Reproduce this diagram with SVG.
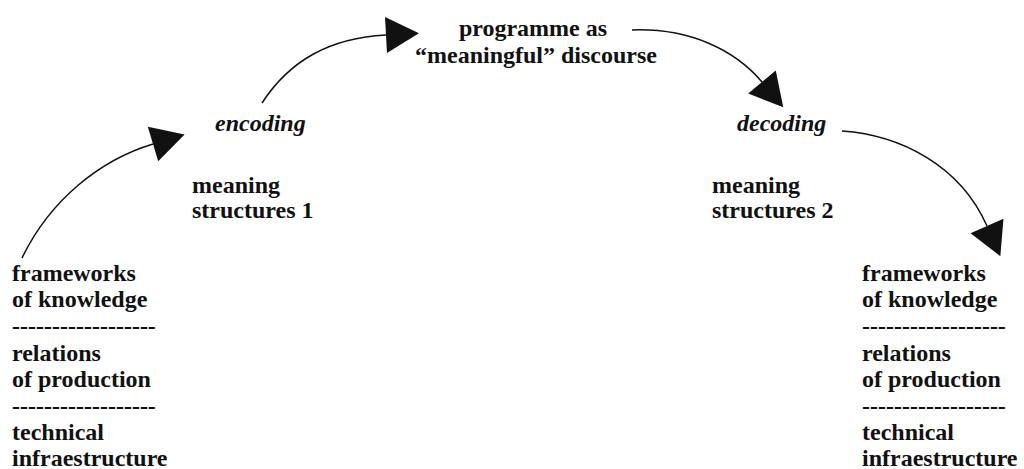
<svg xmlns="http://www.w3.org/2000/svg" width="1024" height="469" viewBox="0 0 1024 469">
  <defs>
    <style>
      text { font-family: "Liberation Serif", "Times New Roman", serif; font-size: 24px; font-weight: bold; fill: #111; }
      .it { font-style: italic; }
      .edge { fill: none; stroke: #111; stroke-width: 1.5; }
    </style>
    <!-- large filled triangular arrowhead, base centred on the path end -->
    <marker id="head" markerUnits="userSpaceOnUse" markerWidth="34" markerHeight="38" refX="0" refY="18" orient="auto" overflow="visible">
      <path d="M0,0 L33,18 L0,36 Z" fill="#111"/>
    </marker>
  </defs>
  <rect width="1024" height="469" fill="#fff"/>

  <g id="connectors">
    <path class="edge" d="M22,258 C50,200 100,160 153,144" marker-end="url(#head)"/>
    <path class="edge" d="M262,103 C290,60 330,38 386,35" marker-end="url(#head)"/>
    <path class="edge" d="M632,30 C690,28 735,50 762,82" marker-end="url(#head)"/>
    <path class="edge" d="M842,131 C900,135 960,165 987,226" marker-end="url(#head)"/>
  </g>

  <g id="production-base">
    <text x="12" y="281">frameworks</text>
    <text x="12" y="307">of knowledge</text>
    <text x="12" y="334">------------------</text>
    <text x="12" y="361">relations</text>
    <text x="12" y="387">of production</text>
    <text x="12" y="414">------------------</text>
    <text x="12" y="440">technical</text>
    <text x="12" y="466">infraestructure</text>
  </g>

  <g id="encoding">
    <text class="it" x="215" y="131">encoding</text>
    <text x="192" y="193">meaning</text>
    <text x="192" y="218">structures 1</text>
  </g>

  <g id="programme">
    <text x="533" y="36" text-anchor="middle">programme as</text>
    <text x="536" y="63" text-anchor="middle">“meaningful” discourse</text>
  </g>

  <g id="decoding">
    <text class="it" x="737" y="131">decoding</text>
    <text x="712" y="193">meaning</text>
    <text x="712" y="218">structures 2</text>
  </g>

  <g id="reception-base">
    <text x="862" y="281">frameworks</text>
    <text x="862" y="307">of knowledge</text>
    <text x="862" y="334">------------------</text>
    <text x="862" y="361">relations</text>
    <text x="862" y="387">of production</text>
    <text x="862" y="414">------------------</text>
    <text x="862" y="440">technical</text>
    <text x="862" y="466">infraestructure</text>
  </g>
</svg>
